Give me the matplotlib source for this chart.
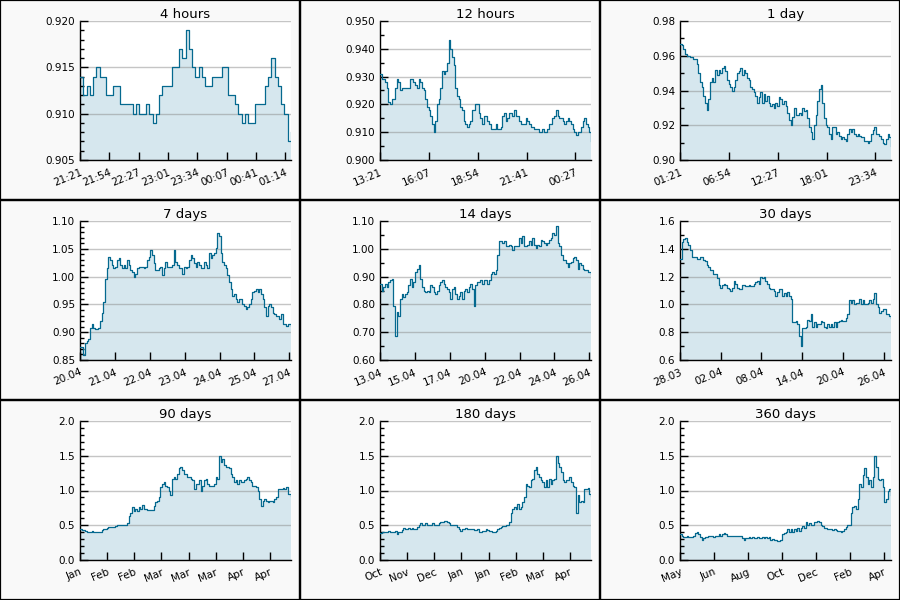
import numpy as np
import matplotlib
matplotlib.use("Agg")
import matplotlib.pyplot as plt
from matplotlib.patches import Rectangle
from matplotlib.ticker import MultipleLocator, FormatStrFormatter

line_color = "#05698f"
fill_color = "#d6e7ee"
cell_bg = "#f9f9f9"

titles = ["4 hours", "12 hours", "1 day", "7 days", "14 days", "30 days",
          "90 days", "180 days", "360 days"]

# window length and x tick step, in seconds
spans = [14400, 43200, 86400, 604800, 1209600, 2592000, 7776000, 15552000, 31104000]
tick_steps = [2000, 10000, 20000, 100000, 200000, 500000, 1000000, 2000000, 5000000]

xlabels_4h = ["21:21", "21:54", "22:27", "23:01", "23:34", "00:07", "00:41", "01:14"]
xlabels_12h = ["13:21", "16:07", "18:54", "21:41", "00:27"]
xlabels_1d = ["01:21", "06:54", "12:27", "18:01", "23:34"]
xlabels_7d = ["20.04", "21.04", "22.04", "23.04", "24.04", "25.04", "27.04"]
xlabels_14d = ["13.04", "15.04", "17.04", "20.04", "22.04", "24.04", "26.04"]
xlabels_30d = ["28.03", "02.04", "08.04", "14.04", "20.04", "26.04"]
xlabels_90d = ["Jan", "Feb", "Feb", "Mar", "Mar", "Mar", "Apr", "Apr"]
xlabels_180d = ["Oct", "Nov", "Dec", "Jan", "Jan", "Feb", "Mar", "Apr"]
xlabels_360d = ["May", "Jun", "Aug", "Oct", "Dec", "Feb", "Apr"]

# y axis: (min, max, major, minor, decimals)
yaxes = [(0.905, 0.920, 0.005, 0.001, 3),
         (0.900, 0.950, 0.010, 0.005, 3),
         (0.90, 0.98, 0.02, 0.01, 2),
         (0.85, 1.10, 0.05, 0.01, 2),
         (0.60, 1.10, 0.10, 0.05, 2),
         (0.6, 1.6, 0.2, 0.1, 1),
         (0.0, 2.0, 0.5, 0.1, 1),
         (0.0, 2.0, 0.5, 0.1, 1),
         (0.0, 2.0, 0.5, 0.1, 1)]

# price samples, evenly spaced over each window
vals_4h = [0.914, 0.912, 0.913, 0.912, 0.914, 0.915, 0.914, 0.914, 0.912, 0.912,
           0.913, 0.913, 0.911, 0.911, 0.911, 0.911, 0.910, 0.911, 0.910, 0.910,
           0.911, 0.910, 0.909, 0.910, 0.912, 0.913, 0.913, 0.913, 0.915, 0.915,
           0.917, 0.916, 0.919, 0.917, 0.915, 0.914, 0.915, 0.914, 0.913, 0.913,
           0.914, 0.914, 0.914, 0.915, 0.915, 0.912, 0.912, 0.911, 0.910, 0.909,
           0.910, 0.909, 0.909, 0.911, 0.911, 0.911, 0.913, 0.914, 0.916, 0.914,
           0.913, 0.911, 0.910, 0.907, 0.908]

vals_12h = [.931, .929, .929, .928, .926, .921, .920, .922, .922, .926, .929, .928,
            .925, .926, .926, .926, .926, .926, .929, .929, .928, .927, .926, .929,
            .928, .926, .925, .922, .919, .918, .916, .913, .910, .914, .920, .922,
            .926, .932, .931, .932, .935, .943, .940, .937, .934, .926, .923, .922,
            .919, .918, .914, .913, .912, .913, .914, .918, .918, .920, .920, .917,
            .915, .913, .916, .916, .914, .913, .911, .911, .911, .913, .911, .911,
            .912, .916, .917, .914, .915, .917, .917, .916, .918, .916, .916, .914,
            .913, .913, .913, .915, .914, .913, .912, .912, .911, .911, .911, .910,
            .910, .911, .910, .910, .911, .913, .913, .915, .916, .918, .916, .915,
            .915, .914, .913, .914, .915, .914, .913, .911, .910, .909, .910, .910,
            .912, .914, .915, .913, .912, .910, .907]

vals_1d = [.967, .966, .964, .961, .960, .960, .959, .959, .958, .958, .955, .950,
           .945, .942, .937, .933, .929, .935, .945, .947, .945, .952, .949, .952,
           .950, .953, .954, .951, .946, .944, .942, .940, .942, .946, .950, .951,
           .953, .949, .952, .950, .947, .946, .942, .941, .939, .937, .933, .936,
           .939, .933, .938, .934, .937, .933, .931, .932, .930, .933, .931, .936,
           .935, .932, .934, .931, .927, .923, .920, .925, .930, .926, .926, .927,
           .926, .930, .928, .929, .924, .919, .916, .912, .920, .926, .934, .941,
           .943, .933, .924, .920, .919, .915, .912, .919, .919, .915, .916, .914,
           .912, .913, .912, .911, .915, .918, .916, .918, .915, .914, .915, .914,
           .913, .913, .911, .911, .910, .911, .915, .917, .919, .915, .915, .914,
           .912, .910, .909, .912, .915, .913, .908]

vals_7d = [.874, .874, .859, .880, .884, .887, .908, .914, .908, .905, .905, .908,
           .920, .935, .954, .996, 1.015, 1.036, 1.030, 1.021, 1.015, 1.018, 1.030,
           1.033, 1.021, 1.015, 1.021, 1.015, 1.030, 1.021, 1.012, 1.009, 1.000,
           1.005, 1.015, 1.018, 1.018, 1.018, 1.015, 1.018, 1.030, 1.036, 1.048,
           1.039, 1.024, 1.012, 1.012, 1.015, 1.018, 1.002, 1.015, 1.027, 1.018,
           1.018, 1.018, 1.021, 1.048, 1.027, 1.021, 1.015, 1.015, 1.005, 1.018,
           1.015, 1.018, 1.030, 1.039, 1.033, 1.024, 1.018, 1.027, 1.021, 1.015,
           1.015, 1.027, 1.021, 1.015, 1.042, 1.033, 1.039, 1.042, 1.051, 1.079,
           1.073, 1.042, 1.027, 1.021, 1.015, 1.002, .990, .978, .966, .969, .960,
           .954, .960, .960, .951, .948, .941, .945, .951, .960, .972, .975, .978,
           .972, .978, .969, .960, .945, .929, .948, .951, .945, .935, .932, .929,
           .929, .923, .932, .914, .914, .912, .914, .914, .911]

vals_14d = [.874, .850, .862, .874, .862, .880, .887, .893, .795, .685, .771, .759,
            .820, .838, .826, .838, .844, .868, .893, .862, .880, .917, .929, .941,
            .893, .862, .850, .844, .850, .844, .868, .862, .844, .838, .850, .868,
            .880, .887, .874, .862, .856, .844, .820, .856, .862, .838, .820, .832,
            .844, .820, .850, .856, .844, .862, .874, .856, .795, .868, .880, .880,
            .887, .874, .887, .887, .874, .887, .911, .917, .911, .923, .978, 1.027,
            1.027, 1.021, 1.027, 1.009, 1.009, 1.015, 1.009, .996, 1.009, 1.009,
            1.009, 1.039, 1.021, 1.045, 1.009, 1.009, 1.015, 1.027, 1.015, 1.039,
            1.015, 1.002, 1.015, 1.009, 1.033, 1.027, 1.021, 1.015, 1.021, 1.033,
            1.039, 1.057, 1.051, 1.082, 1.021, 1.009, .978, .960, .960, .948, .935,
            .948, .954, .966, .972, .960, .929, .948, .941, .929, .923, .923, .917,
            .917, .911]

vals_30d = [1.33, 1.45, 1.47, 1.48, 1.45, 1.43, 1.39, 1.34, 1.34, 1.34, 1.33, 1.33,
            1.34, 1.34, 1.32, 1.31, 1.28, 1.27, 1.25, 1.25, 1.22, 1.22, 1.19, 1.14,
            1.12, 1.14, 1.15, 1.14, 1.12, 1.11, 1.10, 1.12, 1.17, 1.15, 1.12, 1.11,
            1.11, 1.14, 1.14, 1.13, 1.13, 1.14, 1.13, 1.13, 1.15, 1.16, 1.17, 1.15,
            1.20, 1.19, 1.20, 1.17, 1.15, 1.12, 1.11, 1.11, 1.10, 1.06, 1.09, 1.11,
            1.11, 1.06, 1.08, 1.06, 1.09, 1.06, 1.04, 0.87, 0.87, 0.88, 0.86, 0.77,
            0.70, 0.83, 0.83, 0.84, 0.89, 0.88, 0.93, 0.84, 0.87, 0.84, 0.86, 0.86,
            0.88, 0.87, 0.84, 0.83, 0.86, 0.84, 0.86, 0.84, 0.87, 0.84, 0.87, 0.88,
            0.89, 0.88, 0.88, 0.90, 0.93, 1.03, 1.01, 1.03, 1.00, 1.01, 1.01, 1.04,
            1.00, 1.03, 1.00, 1.00, 1.01, 1.03, 1.01, 1.04, 1.08, 1.00, 0.98, 0.94,
            0.95, 0.97, 0.97, 0.93, 0.93, 0.92, 0.90]

vals_90d = [0.44, 0.43, 0.43, 0.42, 0.40, 0.41, 0.41, 0.42, 0.41, 0.40, 0.40, 0.41,
            0.41, 0.43, 0.44, 0.45, 0.46, 0.47, 0.47, 0.48, 0.48, 0.49, 0.50, 0.50,
            0.50, 0.50, 0.51, 0.50, 0.53, 0.63, 0.68, 0.76, 0.71, 0.73, 0.71, 0.76,
            0.73, 0.79, 0.73, 0.73, 0.72, 0.72, 0.72, 0.72, 0.78, 0.83, 0.85, 0.90,
            1.05, 1.10, 1.12, 1.07, 1.05, 1.00, 0.93, 1.17, 1.20, 1.17, 1.24, 1.32,
            1.34, 1.29, 1.24, 1.24, 1.20, 1.20, 1.17, 1.15, 1.02, 1.10, 1.10, 1.15,
            1.00, 1.07, 1.15, 1.17, 1.10, 1.07, 1.06, 1.06, 1.10, 1.20, 1.17, 1.49,
            1.41, 1.46, 1.37, 1.34, 1.34, 1.32, 1.24, 1.20, 1.12, 1.15, 1.10, 1.15,
            1.12, 1.12, 1.15, 1.17, 1.20, 1.15, 1.12, 1.07, 1.07, 1.05, 1.00, 0.88,
            0.78, 0.85, 0.88, 0.85, 0.83, 0.85, 0.85, 0.83, 0.88, 0.90, 1.02, 1.02,
            1.02, 1.03, 1.02, 1.05, 0.95, 0.95, 0.92]

vals_180d = [0.39, 0.40, 0.40, 0.41, 0.41, 0.42, 0.41, 0.41, 0.41, 0.42, 0.38, 0.40,
             0.41, 0.43, 0.46, 0.44, 0.44, 0.46, 0.45, 0.46, 0.44, 0.44, 0.47, 0.51,
             0.53, 0.51, 0.51, 0.53, 0.50, 0.51, 0.50, 0.53, 0.51, 0.50, 0.51, 0.53,
             0.54, 0.55, 0.56, 0.56, 0.55, 0.53, 0.51, 0.51, 0.51, 0.50, 0.48, 0.44,
             0.42, 0.44, 0.45, 0.46, 0.45, 0.44, 0.45, 0.44, 0.43, 0.43, 0.44, 0.41,
             0.41, 0.42, 0.42, 0.44, 0.43, 0.42, 0.42, 0.41, 0.41, 0.42, 0.44, 0.46,
             0.48, 0.49, 0.49, 0.50, 0.51, 0.55, 0.68, 0.73, 0.76, 0.73, 0.80, 0.73,
             0.76, 0.83, 0.90, 1.10, 1.07, 1.05, 1.15, 1.17, 1.29, 1.34, 1.24, 1.20,
             1.15, 1.12, 1.05, 1.15, 1.05, 1.17, 1.10, 1.15, 1.17, 1.49, 1.39, 1.34,
             1.27, 1.15, 1.12, 1.15, 1.15, 1.20, 1.12, 1.07, 1.05, 0.68, 0.93, 0.83,
             0.85, 0.83, 1.02, 1.02, 1.03, 0.95, 0.92]

vals_360d = [0.37, 0.34, 0.33, 0.33, 0.34, 0.33, 0.33, 0.33, 0.34, 0.39, 0.40, 0.37,
             0.33, 0.29, 0.32, 0.33, 0.33, 0.35, 0.34, 0.34, 0.33, 0.34, 0.34, 0.37,
             0.35, 0.37, 0.39, 0.37, 0.35, 0.35, 0.35, 0.34, 0.34, 0.35, 0.34, 0.34,
             0.35, 0.32, 0.29, 0.32, 0.32, 0.33, 0.32, 0.33, 0.32, 0.32, 0.33, 0.32,
             0.32, 0.33, 0.32, 0.33, 0.32, 0.33, 0.29, 0.30, 0.29, 0.29, 0.28, 0.28,
             0.29, 0.37, 0.39, 0.41, 0.44, 0.41, 0.44, 0.41, 0.44, 0.42, 0.46, 0.42,
             0.46, 0.49, 0.46, 0.54, 0.51, 0.53, 0.51, 0.50, 0.54, 0.55, 0.56, 0.54,
             0.51, 0.49, 0.46, 0.46, 0.44, 0.45, 0.44, 0.43, 0.44, 0.43, 0.42, 0.42,
             0.41, 0.42, 0.45, 0.48, 0.50, 0.51, 0.68, 0.76, 0.78, 0.73, 0.88, 1.10,
             1.05, 1.22, 1.32, 1.20, 1.10, 1.15, 1.05, 1.20, 1.49, 1.34, 1.17, 1.15,
             1.17, 1.05, 0.83, 0.88, 1.00, 1.02, 0.93]

series = [vals_4h, vals_12h, vals_1d, vals_7d, vals_14d, vals_30d,
          vals_90d, vals_180d, vals_360d]
xlabels = [xlabels_4h, xlabels_12h, xlabels_1d, xlabels_7d, xlabels_14d,
           xlabels_30d, xlabels_90d, xlabels_180d, xlabels_360d]

# -------------------------------
# figure: 3x3 cells of 300x200 px
# -------------------------------
fig = plt.figure(figsize=(9, 6), dpi=100)
fig.patch.set_facecolor(cell_bg)

W, H = 900.0, 600.0
for i in range(9):
    r, c = divmod(i, 3)
    x0, y0 = c * 300, r * 200

    # cell border
    fig.add_artist(Rectangle((x0 / W, 1 - (y0 + 200) / H), 300 / W, 200 / H,
                             transform=fig.transFigure, fill=False,
                             edgecolor="black", linewidth=1.6))

    ax = fig.add_axes([(x0 + 80) / W, 1 - (y0 + 160) / H, 211 / W, 139 / H])
    vals = np.array(series[i])
    x = np.linspace(0, spans[i], len(vals))
    ymin, ymax, major, minor, dec = yaxes[i]

    ax.fill_between(x, vals, ymin, step="post", color=fill_color, linewidth=0, zorder=1)
    ax.plot(x, vals, drawstyle="steps-post", color=line_color, linewidth=0.9, zorder=3)

    ax.set_xlim(0, spans[i])
    ax.set_ylim(ymin, ymax)
    ax.yaxis.set_major_locator(MultipleLocator(major))
    ax.yaxis.set_minor_locator(MultipleLocator(minor))
    ax.yaxis.set_major_formatter(FormatStrFormatter(f"%.{dec}f"))
    ax.yaxis.grid(True, which="major", color="#8c8c8c", alpha=0.5, linewidth=1.0, zorder=2)
    ax.set_axisbelow(False)

    ticks = np.arange(0, spans[i], tick_steps[i])
    ax.set_xticks(ticks)
    ax.set_xticklabels(xlabels[i], rotation=22, ha="right", rotation_mode="anchor")

    ax.tick_params(axis="both", which="major", direction="in", length=6, width=1,
                   labelsize=7.5, color="black")
    ax.tick_params(axis="y", which="minor", direction="in", length=3, width=1)
    ax.tick_params(axis="x", which="major", pad=5)
    ax.spines["top"].set_visible(False)
    ax.spines["right"].set_visible(False)
    ax.spines["left"].set_linewidth(1.0)
    ax.spines["bottom"].set_linewidth(1.0)
    ax.set_facecolor("white")
    ax.set_title(titles[i], fontsize=9.5, pad=1.5)

plt.savefig("out.png", dpi=100, facecolor=fig.get_facecolor())
print("saved out.png")
